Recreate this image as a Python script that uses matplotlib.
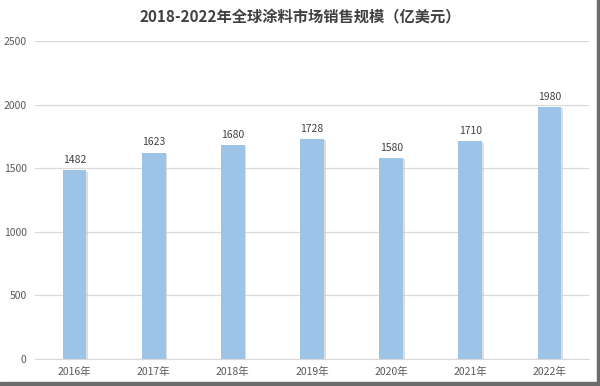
import matplotlib
matplotlib.use('Agg')
import matplotlib.pyplot as plt
from matplotlib.patches import Rectangle
import matplotlib.patheffects as pe

plt.rcParams['font.family'] = ['Noto Sans CJK SC', 'DejaVu Sans']

years = ['2016年', '2017年', '2018年', '2019年', '2020年', '2021年', '2022年']
sales = [1482, 1623, 1680, 1728, 1580, 1710, 1980]
yticks = [0, 500, 1000, 1500, 2000, 2500]

fig = plt.figure(figsize=(6, 3.86), dpi=100)
ax = fig.add_axes([35 / 600, 1 - 359 / 386, 554 / 600, 318 / 386])

x = list(range(len(years)))
bars = ax.bar(x, sales, width=0.3, color='#9DC3E6', zorder=3,
              path_effects=[pe.SimplePatchShadow(offset=(1.2, -0.8), shadow_rgbFace='#c8c8c8', alpha=0.6), pe.Normal()])
for xi, v in zip(x, sales):
    ax.text(xi, v + 40, str(v), ha='center', va='bottom', fontsize=7.5, color='#404040')

ax.set_xlim(-0.5, len(years) - 0.5)
ax.set_ylim(0, 2500)
ax.set_yticks(yticks)
ax.set_xticks(x)
ax.set_xticklabels(years)
ax.grid(axis='y', color='#d9d9d9', linewidth=0.9, zorder=0)
for s in ['top', 'right', 'left']:
    ax.spines[s].set_visible(False)
ax.spines['bottom'].set_color('#d9d9d9')
ax.tick_params(axis='both', length=0, labelsize=7.5, colors='#595959')
ax.tick_params(axis='y', pad=6)
ax.tick_params(axis='x', pad=6)

fig.text(0.5, 1 - 17 / 386, '2018-2022年全球涂料市场销售规模（亿美元）', ha='center', va='center',
         fontsize=11, fontweight='bold', color='#404040')

# gray frame on right and bottom edges
fig.patches.append(Rectangle((0, 0), 1, 4 / 386, transform=fig.transFigure, color='#6b6b6b', zorder=10))
fig.patches.append(Rectangle((1 - 3 / 600, 0), 3 / 600, 1, transform=fig.transFigure, color='#6b6b6b', zorder=10))

fig.savefig('out.png', dpi=100)
